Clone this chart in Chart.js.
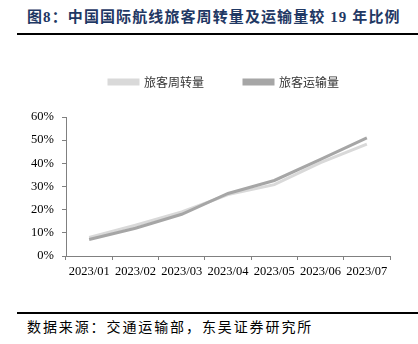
<!DOCTYPE html>
<html>
<head>
<meta charset="utf-8">
<script src="https://cdn.jsdelivr.net/npm/chart.js@4"></script>
<style>
  html, body { margin: 0; padding: 0; background: #fff; }
  body { width: 418px; height: 344px; position: relative; overflow: hidden; }
  #title {
    position: absolute; left: 27px; top: 8px;
    font: bold 15px "Liberation Serif", "Noto Sans CJK SC", serif;
    color: #1f3864; letter-spacing: 1.1px; white-space: nowrap; line-height: 18px;
  }
  .rule { position: absolute; left: 17px; width: 401px; height: 2px; background: #000; }
  #source {
    position: absolute; left: 27px; top: 319px;
    font: 14px "Liberation Serif", "Noto Sans CJK SC", serif;
    color: #000; letter-spacing: 1.9px; white-space: nowrap; line-height: 18px;
  }
  #wrap { position: absolute; left: 0; top: 0; width: 418px; height: 300px; }
</style>
</head>
<body>
<div id="title">图8：中国国际航线旅客周转量及运输量较 19 年比例</div>
<div class="rule" style="top:33px"></div>
<div id="wrap"><canvas id="flightChart"></canvas></div>
<div class="rule" style="top:312px"></div>
<div id="source">数据来源：交通运输部，东吴证券研究所</div>
<script>
// 月份
const months = ['2023/01', '2023/02', '2023/03', '2023/04', '2023/05', '2023/06', '2023/07'];
// 较2019年比例（%）
const turnover = [8.0, 13.3, 19.0, 26.5, 30.8, 40.3, 48.3];   // 旅客周转量
const passengers = [7.1, 12.0, 18.0, 27.0, 32.6, 41.7, 51.0]; // 旅客运输量

// 图例：下方留白，并对准绘图区居中
const legendSpace = {
    id: 'legendSpace',
    beforeInit(chart) {
        const fit = chart.legend.fit;
        chart.legend.fit = function () {
            fit.bind(chart.legend)();
            this.height = 81;
        };
    },
    afterLayout(chart) {
        chart.legend.left += 14;
        chart.legend.right += 14;
    }
};

const ctx = document.getElementById('flightChart').getContext('2d');
const flightChart = new Chart(ctx, {
    type: 'line',
    data: {
        labels: months,
        datasets: [{
            label: '旅客周转量',
            data: turnover,
            borderColor: '#d9d9d9',
            backgroundColor: '#d9d9d9',
            borderWidth: 3,
            pointRadius: 0,
            order: 1
        }, {
            label: '旅客运输量',
            data: passengers,
            borderColor: '#a6a6a6',
            backgroundColor: '#a6a6a6',
            borderWidth: 3,
            pointRadius: 0,
            order: 0
        }]
    },
    options: {
        responsive: true,
        maintainAspectRatio: false,
        animation: false,
        layout: {
            padding: { top: 36, left: 30, right: 28, bottom: 14 }
        },
        plugins: {
            legend: {
                position: 'top',
                labels: {
                    boxWidth: 29,
                    boxHeight: 4,
                    padding: 40,
                    color: '#333',
                    font: { family: '"Noto Sans CJK SC"', size: 12 },
                    sort: (a, b) => a.datasetIndex - b.datasetIndex
                }
            },
            tooltip: { enabled: false }
        },
        scales: {
            x: {
                offset: true,
                grid: { offset: true, drawOnChartArea: false, tickLength: 4, color: '#808080' },
                border: { color: '#808080' },
                ticks: {
                    color: '#000',
                    padding: 4,
                    maxRotation: 0,
                    autoSkip: false,
                    font: { family: '"Liberation Serif"', size: 12.5 }
                },
                afterFit: scale => { scale.height = 30; }
            },
            y: {
                min: 0,
                max: 60,
                ticks: {
                    stepSize: 10,
                    color: '#000',
                    padding: 8,
                    font: { family: '"Liberation Serif"', size: 12.5 },
                    callback: v => v + '%'
                },
                grid: { drawOnChartArea: false, tickLength: 4, color: '#808080' },
                border: { color: '#808080' },
                afterFit: scale => { scale.width = 36; }
            }
        }
    },
    plugins: [legendSpace]
});
</script>
</body>
</html>
